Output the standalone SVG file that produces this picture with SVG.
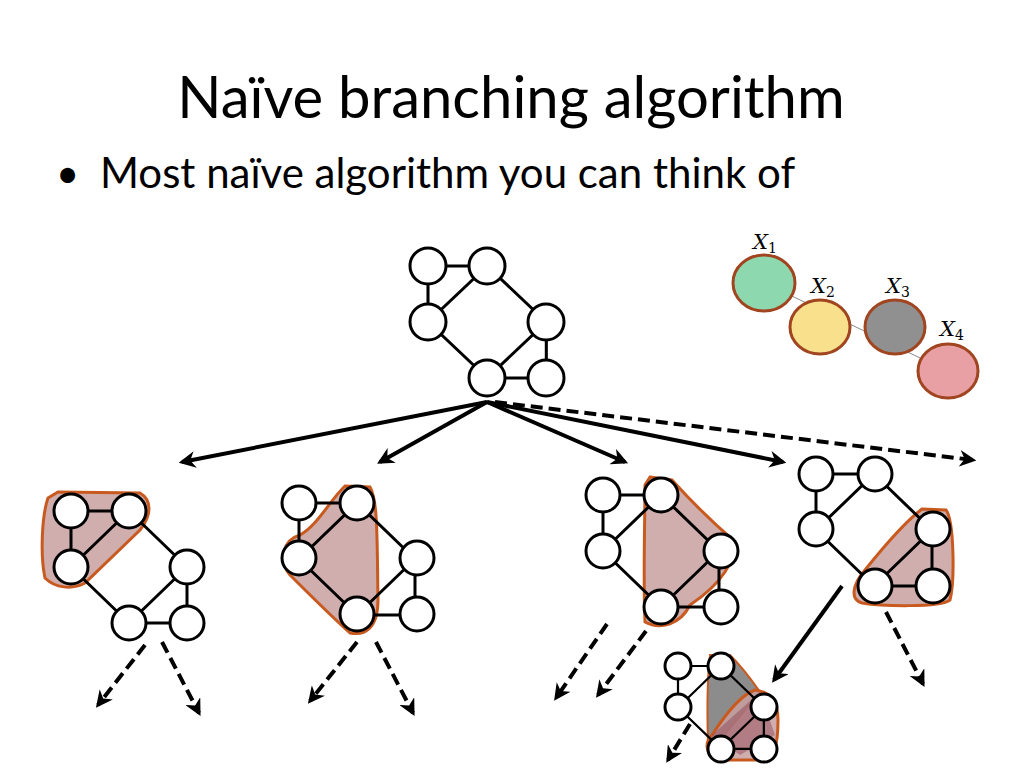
<svg xmlns="http://www.w3.org/2000/svg" width="1024" height="768" viewBox="0 0 1024 768">
<defs>
<style>
.t{font-family:Lato,"Open Sans",sans-serif;fill:#000}
.n{fill:#fff;stroke:#000;stroke-width:3}
.e{stroke:#000;stroke-width:3;fill:none}
.blob{fill:#c9a0a0;fill-opacity:0.85;stroke:#c85a20;stroke-width:3}
.a{stroke:#000;stroke-width:4;fill:none;marker-end:url(#ah)}
.d{stroke:#000;stroke-width:4;fill:none;stroke-dasharray:12 6;marker-end:url(#ah)}
.lg{stroke:#a0451f;stroke-width:3}
.lb{font-family:"DejaVu Serif","Liberation Serif",serif;font-style:italic;font-size:21px}
.sb{font-family:"DejaVu Serif","Liberation Serif",serif;font-style:normal;font-size:14px}
</style>
<marker id="ah" viewBox="0 0 10 10" refX="8" refY="5" markerWidth="4.2" markerHeight="4.2" orient="auto"><path d="M0,0 L10,5 L0,10 L3,5 z" fill="#000"/></marker>
<g id="gr">
<path class="e" d="M0,0H58M0,0V56M58,0L0,56M58,0L116,56M0,56L58,112M116,56L58,112M116,56V112M58,112H116"/>
</g>
</defs>
<rect width="1024" height="768" fill="#fff"/>
<text class="t" x="511" y="118" font-size="58" text-anchor="middle">Naïve branching algorithm</text>
<text class="t" x="56" y="188" font-size="40">•</text>
<text class="t" x="100" y="188" font-size="42">Most naïve algorithm you can think of</text>

<g id="legend">
<line x1="765" y1="283" x2="949" y2="372" stroke="#888" stroke-width="1"/>
<ellipse class="lg" cx="764" cy="283" rx="31" ry="28" fill="#8ed8b0"/>
<ellipse class="lg" cx="820" cy="327" rx="30" ry="27" fill="#f8e08c"/>
<ellipse class="lg" cx="895" cy="327" rx="30" ry="27" fill="#909090"/>
<ellipse class="lg" cx="948" cy="371" rx="30" ry="27" fill="#e8a0a4"/>
<text class="lb" x="753" y="249">X<tspan class="sb" dy="4">1</tspan></text>
<text class="lb" x="811" y="293">X<tspan class="sb" dy="4">2</tspan></text>
<text class="lb" x="886" y="293">X<tspan class="sb" dy="4">3</tspan></text>
<text class="lb" x="940" y="336">X<tspan class="sb" dy="4">4</tspan></text>
</g>

<g id="root">
<g transform="translate(428,266) scale(1.02,1)"><use href="#gr"/></g>
<circle class="n" cx="428" cy="266" r="18"/><circle class="n" cx="487" cy="266" r="18"/>
<circle class="n" cx="428" cy="322" r="18"/><circle class="n" cx="546" cy="322" r="18"/>
<circle class="n" cx="487" cy="378" r="18"/><circle class="n" cx="546" cy="378" r="18"/>
</g>

<g id="g1">
<path class="blob" d="M58,492 L140,493 C152,500 152,515 140,530 L85,583 C72,590 55,588 45,578 C40,555 42,515 48,498 Z"/>
<use href="#gr" transform="translate(71,511)"/>
<circle class="n" cx="71" cy="511" r="17"/><circle class="n" cx="129" cy="511" r="17"/>
<circle class="n" cx="71" cy="567" r="17"/><circle class="n" cx="187" cy="567" r="17"/>
<circle class="n" cx="129" cy="623" r="17"/><circle class="n" cx="187" cy="623" r="17"/>
</g>

<g id="g2">
<path class="blob" d="M345,486 L370,487 C378,500 377,540 378,600 C378,628 365,636 350,633 C330,615 315,600 290,575 C278,560 283,540 300,535 C318,525 330,500 345,486 Z"/>
<use href="#gr" transform="translate(299,503)"/>
<circle class="n" cx="299" cy="503" r="17"/><circle class="n" cx="357" cy="503" r="17"/>
<circle class="n" cx="299" cy="558" r="17"/><circle class="n" cx="417" cy="558" r="17"/>
<circle class="n" cx="357" cy="614" r="17"/><circle class="n" cx="417" cy="614" r="17"/>
</g>

<g id="g3">
<path class="blob" d="M650,477 L672,480 C690,500 710,520 733,540 C738,560 720,585 690,605 C680,625 660,630 645,622 C643,580 645,520 645,485 Z"/>
<use href="#gr" transform="translate(603,495)"/>
<circle class="n" cx="603" cy="495" r="17"/><circle class="n" cx="661" cy="495" r="17"/>
<circle class="n" cx="603" cy="551" r="17"/><circle class="n" cx="721" cy="551" r="17"/>
<circle class="n" cx="661" cy="607" r="17"/><circle class="n" cx="721" cy="607" r="17"/>
</g>

<g id="g4">
<path class="blob" d="M922,509 L946,510 C954,520 955,580 950,600 C940,608 880,606 862,603 C850,600 852,585 865,570 C885,545 905,522 922,509 Z"/>
<use href="#gr" transform="translate(816,474)"/>
<circle class="n" cx="816" cy="474" r="17"/><circle class="n" cx="875" cy="474" r="17"/>
<circle class="n" cx="816" cy="529" r="17"/><circle class="n" cx="933" cy="529" r="17"/>
<circle class="n" cx="875" cy="586" r="17"/><circle class="n" cx="933" cy="586" r="17"/>
</g>

<g id="g5">
<path d="M710,655 L730,655 C745,670 755,685 760,692 L720,740 L708,742 C707,710 707,680 710,655 Z" fill="#8c8c8c" stroke="#c85a20" stroke-width="2"/>
<path class="blob" d="M755,690 C770,692 778,700 778,720 C778,745 775,758 760,760 L715,760 C705,752 705,742 712,735 C725,715 740,695 755,690 Z" fill="#d8a0a8"/>
<path d="M712,735 L760,692 L775,735 L740,755 Z" fill="#8a4050" fill-opacity="0.45"/>
<g transform="translate(678,666) scale(0.74)"><use href="#gr"/></g>
<circle class="n" cx="678" cy="666" r="13"/><circle class="n" cx="721" cy="666" r="13"/>
<circle class="n" cx="678" cy="707" r="13"/><circle class="n" cx="764" cy="707" r="13"/>
<circle class="n" cx="721" cy="749" r="13"/><circle class="n" cx="764" cy="749" r="13"/>
</g>

<g id="connectors">
<line class="a" x1="487" y1="402" x2="182" y2="462"/>
<line class="a" x1="487" y1="402" x2="380" y2="462"/>
<line class="a" x1="487" y1="402" x2="625" y2="462"/>
<line class="a" x1="487" y1="402" x2="783" y2="462"/>
<line class="d" x1="495" y1="402" x2="973" y2="460"/>
<line class="a" x1="842" y1="586" x2="774" y2="680"/>
<line class="d" x1="145" y1="645" x2="98" y2="705"/>
<line class="d" x1="162" y1="642" x2="199" y2="713"/>
<line class="d" x1="357" y1="642" x2="310" y2="701"/>
<line class="d" x1="376" y1="642" x2="413" y2="713"/>
<line class="d" x1="607" y1="624" x2="556" y2="698"/>
<line class="d" x1="646" y1="631" x2="598" y2="695"/>
<line class="d" x1="886" y1="612" x2="923" y2="684"/>
<line class="d" x1="690" y1="724" x2="668" y2="760"/>
</g>
</svg>
